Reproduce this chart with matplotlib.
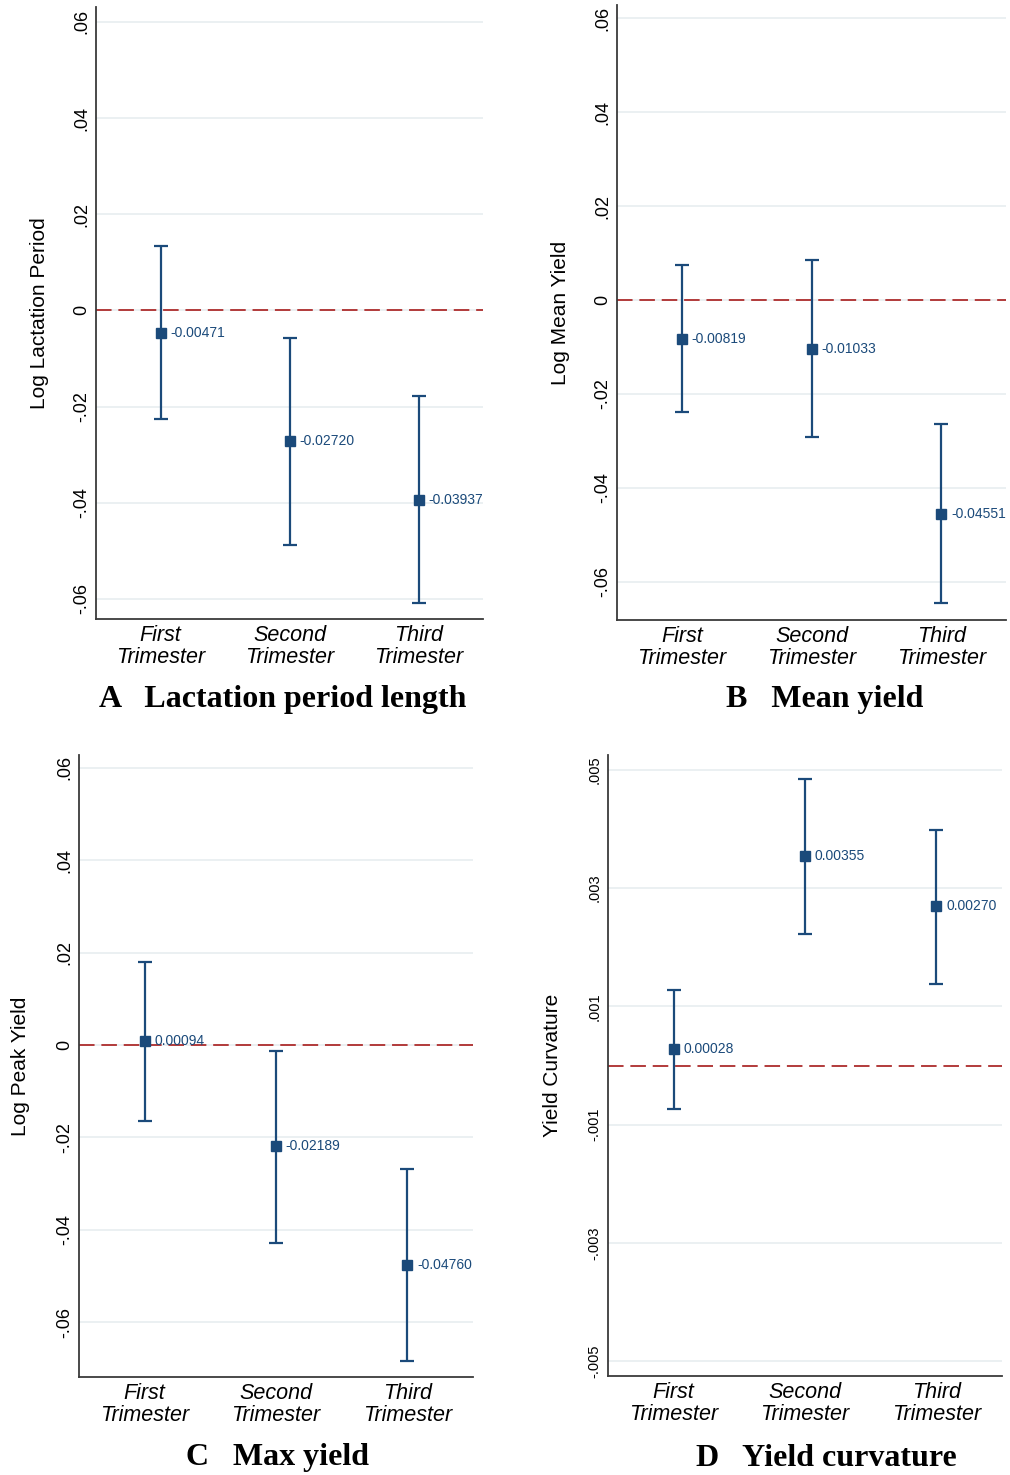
import matplotlib
matplotlib.use("Agg")
import matplotlib.pyplot as plt
import numpy as np

plt.rcParams['font.family'] = ['Liberation Sans', 'DejaVu Sans']

categories = ["First\nTrimester", "Second\nTrimester", "Third\nTrimester"]

# Panel A: Lactation period length
a_est = [-0.00471, -0.02720, -0.03937]
a_lo = [-0.0225, -0.0488, -0.0608]
a_hi = [0.0133, -0.0058, -0.0179]

# Panel B: Mean yield
b_est = [-0.00819, -0.01033, -0.04551]
b_lo = [-0.0238, -0.0291, -0.0645]
b_hi = [0.0075, 0.0085, -0.0264]

# Panel C: Max yield
c_est = [0.00094, -0.02189, -0.04760]
c_lo = [-0.0165, -0.0429, -0.0685]
c_hi = [0.0180, -0.0013, -0.0269]

# Panel D: Yield curvature
d_est = [0.00028, 0.00355, 0.00270]
d_lo = [-0.00074, 0.00223, 0.00138]
d_hi = [0.00128, 0.00484, 0.00398]

log_ticks = [-0.06, -0.04, -0.02, 0.0, 0.02, 0.04, 0.06]
log_tick_labels = ["-.06", "-.04", "-.02", "0", ".02", ".04", ".06"]
curv_ticks = [-0.005, -0.003, -0.001, 0.001, 0.003, 0.005]
curv_tick_labels = ["-.005", "-.003", "-.001", ".001", ".003", ".005"]

ylabels = ["Log Lactation Period", "Log Mean Yield", "Log Peak Yield", "Yield Curvature"]
titles = ["A   Lactation period length", "B   Mean yield", "C   Max yield", "D   Yield curvature"]

NAVY = "#1b4a7a"
RED = "#b23b3b"
GRID = "#e9eff1"
SPINE = "#3a3a3a"

W, H = 1010, 1475
fig = plt.figure(figsize=(W / 100, H / 100), dpi=100)


def px_axes(left, top, right, bottom):
    return fig.add_axes([left / W, 1 - bottom / H, (right - left) / W, (bottom - top) / H])


panels = [
    dict(box=(96, 7, 483, 619), est=a_est, lo=a_lo, hi=a_hi, ylim=(-0.0642, 0.0631),
         ticks=log_ticks, tl=log_tick_labels, tfs=13, tpad=10.5, ylab_x=-0.121,
         title_xy=(283, 699)),
    dict(box=(617, 5, 1006, 620), est=b_est, lo=b_lo, hi=b_hi, ylim=(-0.0681, 0.0628),
         ticks=log_ticks, tl=log_tick_labels, tfs=13, tpad=10.5, ylab_x=-0.121,
         title_xy=(825, 699)),
    dict(box=(79, 755, 473, 1377), est=c_est, lo=c_lo, hi=c_hi, ylim=(-0.0719, 0.0628),
         ticks=log_ticks, tl=log_tick_labels, tfs=13, tpad=10.5, ylab_x=-0.124,
         title_xy=(278, 1458)),
    dict(box=(608, 755, 1002, 1376), est=d_est, lo=d_lo, hi=d_hi, ylim=(-0.00525, 0.00525),
         ticks=curv_ticks, tl=curv_tick_labels, tfs=10.5, tpad=9.5, ylab_x=-0.117,
         title_xy=(826, 1458)),
]

x = np.arange(1, len(categories) + 1)

for i, p in enumerate(panels):
    ax = px_axes(*p["box"])
    est = np.array(p["est"])
    lo = np.array(p["lo"])
    hi = np.array(p["hi"])
    ax.set_xlim(0.5, 3.5)
    ax.set_ylim(*p["ylim"])
    ax.set_yticks(p["ticks"])
    ax.set_yticklabels(p["tl"], rotation=90, va="center", ha="center", fontsize=p["tfs"])
    ax.set_xticks(x)
    ax.set_xticklabels(categories, fontsize=15.5, style="italic", linespacing=1.02)
    ax.tick_params(axis="y", length=0, pad=p["tpad"])
    ax.tick_params(axis="x", length=0, pad=4.5)
    for lab in ax.get_yticklabels():
        lab.set_rotation_mode("anchor")
    ax.grid(axis="y", color=GRID, linewidth=1.3)
    ax.set_axisbelow(True)
    for s in ["top", "right"]:
        ax.spines[s].set_visible(False)
    for s in ["left", "bottom"]:
        ax.spines[s].set_color(SPINE)
        ax.spines[s].set_linewidth(1.3)
    ax.axhline(0, color=RED, linewidth=1.4, dashes=(8, 3.5), zorder=2)
    ax.errorbar(x, est, yerr=[est - lo, hi - est], fmt="s", color=NAVY, ecolor=NAVY,
                elinewidth=1.6, capsize=5, capthick=1.6, markersize=7.5, zorder=3)
    for xi, v in zip(x, est):
        ax.annotate(f"{v:.5f}", (xi, v), xytext=(7, 0), textcoords="offset points",
                    va="center", ha="left", fontsize=10, color=NAVY, zorder=4)
    ax.set_ylabel(ylabels[i], fontsize=15)
    ax.yaxis.set_label_coords(p["ylab_x"], 0.5)
    tx, ty = p["title_xy"]
    fig.text(tx / W, 1 - ty / H, titles[i], ha="center", va="center",
             fontsize=23, fontweight="bold", family="Liberation Serif")

fig.savefig("out.png", dpi=100, facecolor="white")
